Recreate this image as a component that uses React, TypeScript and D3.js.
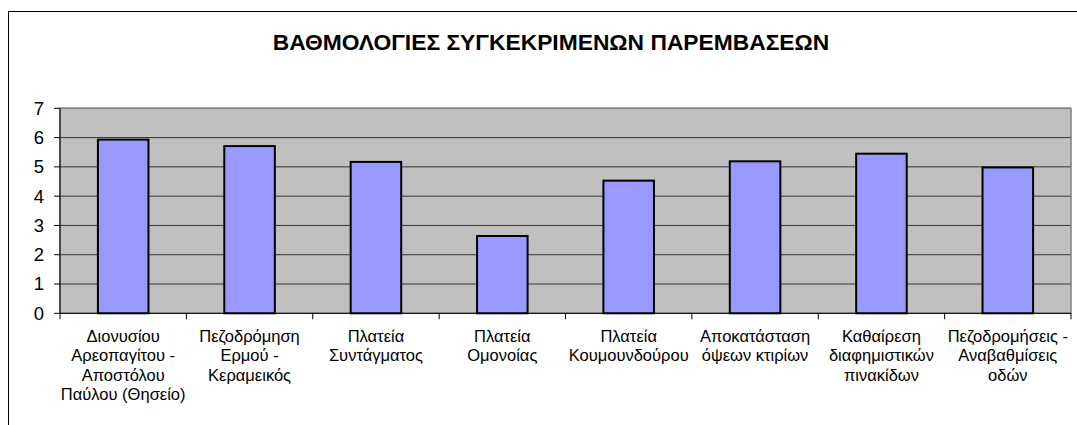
import React from "react";
import * as d3 from "d3";

const title = "ΒΑΘΜΟΛΟΓΙΕΣ ΣΥΓΚΕΚΡΙΜΕΝΩΝ ΠΑΡΕΜΒΑΣΕΩΝ";
const categories: string[][] = [
  ["Διονυσίου", "Αρεοπαγίτου -", "Αποστόλου", "Παύλου (Θησείο)"],
  ["Πεζοδρόμηση", "Ερμού -", "Κεραμεικός"],
  ["Πλατεία", "Συντάγματος"],
  ["Πλατεία", "Ομονοίας"],
  ["Πλατεία", "Κουμουνδούρου"],
  ["Αποκατάσταση", "όψεων κτιρίων"],
  ["Καθαίρεση", "διαφημιστικών", "πινακίδων"],
  ["Πεζοδρομήσεις -", "Αναβαθμίσεις", "οδών"],
];
const values = [5.93, 5.71, 5.17, 2.64, 4.53, 5.19, 5.45, 4.98];
const yTicks = [0, 1, 2, 3, 4, 5, 6, 7];

const W = 1077;
const H = 425;
const plot = { left: 60, right: 1071, top: 108.3, bottom: 313.3 };
const FONT = "'Liberation Sans', Arial, sans-serif";

export default function App() {
  const idx = categories.map((_, i) => String(i));
  const x = d3
    .scaleBand<string>()
    .domain(idx)
    .range([plot.left, plot.right])
    .paddingInner(0.6)
    .paddingOuter(0.3);
  const xb = d3.scaleBand<string>().domain(idx).range([plot.left, plot.right]);
  const y = d3.scaleLinear().domain([0, 7]).range([plot.bottom, plot.top]);

  return (
    <svg
      width={W}
      height={H}
      style={{ position: "absolute", left: 0, top: 0, display: "block", background: "#fff" }}
    >
      <rect x={8.5} y={11.5} width={1200} height={600} fill="#fff" stroke="#000" strokeWidth={1} />
      <text
        x={551}
        y={50}
        textAnchor="middle"
        fontFamily={FONT}
        fontWeight="bold"
        fontSize={22.8}
      >
        {title}
      </text>
      <rect
        x={plot.left}
        y={plot.top}
        width={plot.right - plot.left}
        height={plot.bottom - plot.top}
        fill="#C0C0C0"
      />
      {yTicks.slice(1).map((t) => (
        <line
          key={"g" + t}
          x1={plot.left}
          x2={plot.right}
          y1={y(t)}
          y2={y(t)}
          stroke="#333"
          strokeWidth={1}
        />
      ))}
      <rect
        x={plot.left}
        y={plot.top}
        width={plot.right - plot.left}
        height={plot.bottom - plot.top}
        fill="none"
        stroke="#808080"
        strokeWidth={1.5}
      />
      {values.map((v, i) => (
        <rect
          key={"b" + i}
          x={x(String(i))!}
          y={y(v)}
          width={x.bandwidth()}
          height={y(0) - y(v)}
          fill="#9999FF"
          stroke="#000"
          strokeWidth={2}
        />
      ))}
      {/* y axis */}
      <line x1={plot.left} x2={plot.left} y1={plot.top} y2={plot.bottom} stroke="#000" strokeWidth={1} />
      {yTicks.map((t) => (
        <g key={"yt" + t}>
          <line x1={plot.left - 6} x2={plot.left} y1={y(t)} y2={y(t)} stroke="#000" strokeWidth={1} />
          <text
            x={plot.left - 16}
            y={y(t)}
            dy="0.35em"
            textAnchor="end"
            fontFamily={FONT}
            fontSize={18.5}
          >
            {t}
          </text>
        </g>
      ))}
      {/* x axis */}
      <line x1={plot.left} x2={plot.right} y1={plot.bottom} y2={plot.bottom} stroke="#000" strokeWidth={1} />
      {idx.map((k) => (
        <line
          key={"xt" + k}
          x1={xb(k)!}
          x2={xb(k)!}
          y1={plot.bottom}
          y2={plot.bottom + 6}
          stroke="#000"
        />
      ))}
      <line x1={plot.right} x2={plot.right} y1={plot.bottom} y2={plot.bottom + 6} stroke="#000" />
      {categories.map((lines, i) => (
        <text
          key={"xl" + i}
          x={xb(String(i))! + xb.bandwidth() / 2}
          y={342}
          textAnchor="middle"
          fontFamily={FONT}
          fontSize={16.5}
        >
          {lines.map((l, j) => (
            <tspan key={j} x={xb(String(i))! + xb.bandwidth() / 2} dy={j === 0 ? 0 : 19.4}>
              {l}
            </tspan>
          ))}
        </text>
      ))}
    </svg>
  );
}
